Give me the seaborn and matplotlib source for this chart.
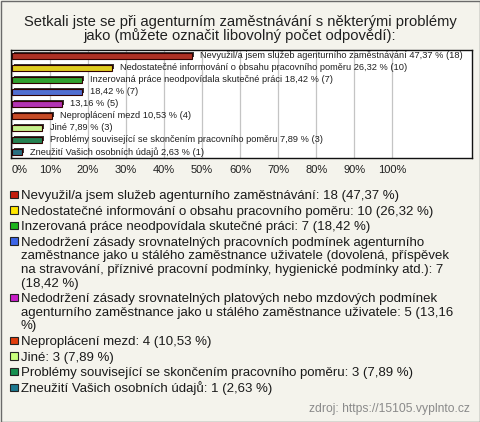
import matplotlib
matplotlib.use("Agg")
import matplotlib.pyplot as plt
import matplotlib.patheffects as pe
from matplotlib.patches import Rectangle
import pandas as pd
import seaborn as sns

# data
answers = [
    "Nevyužil/a jsem služeb agenturního zaměstnávání",
    "Nedostatečné informování o obsahu pracovního poměru",
    "Inzerovaná práce neodpovídala skutečné práci",
    "Nedodržení zásady srovnatelných pracovních podmínek agenturního "
    "zaměstnance jako u stálého zaměstnance uživatele (dovolená, příspěvek "
    "na stravování, příznivé pracovní podmínky, hygienické podmínky atd.)",
    "Nedodržení zásady srovnatelných platových nebo mzdových podmínek "
    "agenturního zaměstnance jako u stálého zaměstnance uživatele",
    "Neproplácení mezd",
    "Jiné",
    "Problémy související se skončením pracovního poměru",
    "Zneužití Vašich osobních údajů",
]
# the bar annotations leave out the two long answers
bar_names = [
    "Nevyužil/a jsem služeb agenturního zaměstnávání",
    "Nedostatečné informování o obsahu pracovního poměru",
    "Inzerovaná práce neodpovídala skutečné práci",
    "",
    "",
    "Neproplácení mezd",
    "Jiné",
    "Problémy související se skončením pracovního poměru",
    "Zneužití Vašich osobních údajů",
]
counts = [18, 10, 7, 7, 5, 4, 3, 3, 1]
percents = [47.37, 26.32, 18.42, 18.42, 13.16, 10.53, 7.89, 7.89, 2.63]
colors = ["#c41e0e", "#ffe600", "#1cb41c", "#3c64e6", "#c81ec8",
          "#e03c0c", "#c8ff7c", "#169050", "#1c7890"]
ticks = [0, 10, 20, 30, 40, 50, 60, 70, 80, 90, 100]

title_lines = ["Setkali jste se při agenturním zaměstnávání s některými problémy",
               "jako (můžete označit libovolný počet odpovědí):"]

# how the legend text wraps in the reference
legend_breaks = {
    3: ["Nedodržení zásady srovnatelných pracovních podmínek agenturního",
        "zaměstnance jako u stálého zaměstnance uživatele (dovolená, příspěvek",
        "na stravování, příznivé pracovní podmínky, hygienické podmínky atd.): 7",
        "(18,42 %)"],
    4: ["Nedodržení zásady srovnatelných platových nebo mzdových podmínek",
        "agenturního zaměstnance jako u stálého zaměstnance uživatele: 5 (13,16",
        "%)"],
}


def pct(v):
    return f"{v:.2f}".replace(".", ",") + " %"


df = pd.DataFrame({"id": [str(i) for i in range(len(counts))],
                   "percent": percents})

sns.set_theme(style="white")
plt.rcParams["font.family"] = ["Liberation Sans", "DejaVu Sans"]

W, H = 480, 422
bg = "#f4f3ec"
fig = plt.figure(figsize=(W / 100, H / 100), dpi=100, facecolor=bg)
ax = fig.add_axes([10.5 / W, 1 - 158 / H, 461.5 / W, 108 / H])

sns.barplot(data=df, x="percent", y="id", hue="id", palette=colors,
            legend=False, orient="h", width=0.42, ax=ax,
            edgecolor="#300000", linewidth=0.8)
for bar in ax.patches:
    bar.set_path_effects([pe.SimplePatchShadow(offset=(1.2, 1.2), shadow_rgbFace="#202020", alpha=0.9),
                          pe.Normal()])

for i, (name, v, c) in enumerate(zip(bar_names, percents, counts)):
    txt = f"{name} {pct(v)} ({c})".strip()
    ax.text(v + 2.0, i, txt, va="center", ha="left", fontsize=6.7, color="#202020")

ax.set_xlim(-0.4, 121)
ax.set_ylim(len(counts) - 0.5, -0.5)
ax.set_xticks(ticks)
ax.set_xticklabels([f"{t}%" for t in ticks], fontsize=8, color="#202020")
ax.get_xticklabels()[0].set_ha("left")
ax.set_yticks([])
ax.set_xlabel("")
ax.set_ylabel("")
ax.tick_params(axis="x", length=0, pad=5)
ax.grid(axis="x", color="#c4c4c4", linewidth=0.9)
ax.set_axisbelow(True)
ax.set_facecolor("white")
for s in ax.spines.values():
    s.set_color("#111111")
    s.set_linewidth(1.0)

for line, yc in zip(title_lines, [22, 35.5]):
    fig.text(0.5, 1 - yc / H, line, ha="center", va="center", fontsize=10.6,
             color="#202020")

# legend, drawn line by line like the reference (y in pixels from the top)
base = 199
for i, (name, v, c, col) in enumerate(zip(answers, percents, counts, colors)):
    lines = legend_breaks.get(i, [f"{name}: {c} ({pct(v)})"])
    fig.patches.append(Rectangle((10 / W, 1 - (base - 0.8) / H), 7.5 / W, 7.5 / H,
                                 transform=fig.transFigure, facecolor=col,
                                 edgecolor="#222222", linewidth=0.8))
    for j, line in enumerate(lines):
        fig.text(20.7 / W, 1 - (base + 13.6 * j) / H, line, ha="left",
                 va="baseline", fontsize=9.5, color="#1a1a1a")
    base += 13.6 * (len(lines) - 1) + 15.6

fig.text(470 / W, 1 - 409 / H, "zdroj: https://15105.vyplnto.cz", ha="right",
         va="center", fontsize=8.7, color="#8a8a8a")

fig.patches.append(Rectangle((0.5 / W, 0.5 / H), (W - 1) / W, (H - 1) / H,
                             transform=fig.transFigure, facecolor="none",
                             edgecolor="#6a6a6a", linewidth=1.0))

fig.savefig("out.png", dpi=100, facecolor=bg)
